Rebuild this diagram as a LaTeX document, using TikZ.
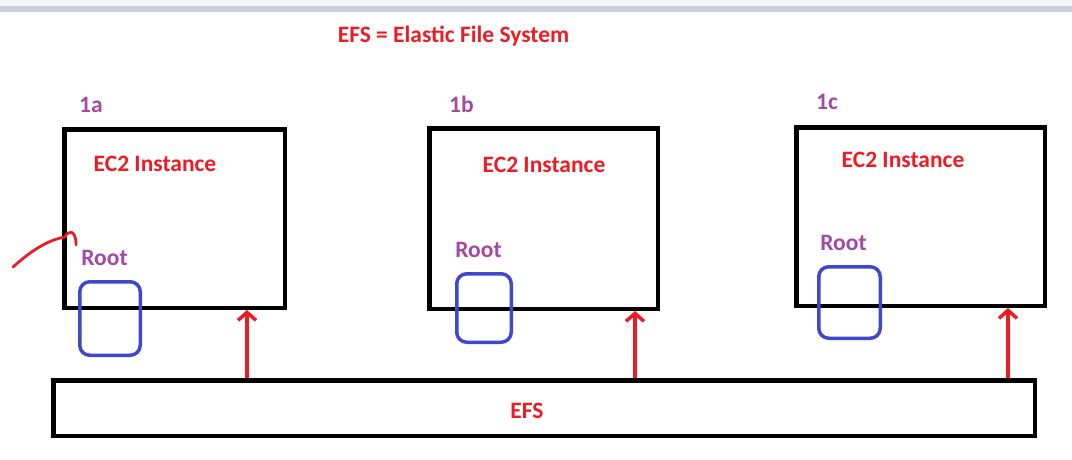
\documentclass[tikz,border=0pt]{standalone}
\usepackage{fontspec}
\setmainfont{Carlito}
\usetikzlibrary{arrows.meta}

\definecolor{paintred}{RGB}{237,28,36}
\definecolor{paintpurple}{RGB}{163,73,164}
\definecolor{paintblue}{RGB}{63,72,204}
\definecolor{barlight}{RGB}{245,246,247}
\definecolor{bardark}{RGB}{205,208,222}

\begin{document}
\begin{tikzpicture}[x=1pt, y=-1pt,
        box/.style={draw, line width=4.5pt, inner sep=0pt},
        disk/.style={draw=paintblue, line width=3.5pt, rounded corners=10pt, inner sep=0pt},
        txt/.style={font=\fontsize{23.5}{28}\selectfont\bfseries, anchor=base, inner sep=0pt},
        redtxt/.style={txt, text=paintred},
        zonetxt/.style={txt, text=paintpurple},
        feed/.style={draw=paintred, line width=3.5pt, -{Straight Barb[length=8pt, width=18pt]}}]
        \useasboundingbox (0,0) rectangle (1072,460);
        % window strip at the top
        \fill[barlight] (0,0) rectangle (1072,6);
        \fill[bardark] (0,6) rectangle (1072,12);

        \node[redtxt] (title) at (453.5,43) {EFS = Elastic File System};

        % instances
        \node[box, minimum width=220.5pt, minimum height=178.5pt] (A) at (174.5,218.5) {};
        \node[box, minimum width=228.5pt, minimum height=180.5pt] (B) at (543.5,218.5) {};
        \node[box, minimum width=248.5pt, minimum height=178.5pt] (C) at (920.5,216.5) {};

        \node[zonetxt] (zA) at (91,113) {1a};
        \node[zonetxt] (zB) at (461.5,113) {1b};
        \node[zonetxt] (zC) at (827,110) {1c};

        \node[redtxt] (iA) at (155,171) {EC2 Instance};
        \node[redtxt] (iB) at (544,172) {EC2 Instance};
        \node[redtxt] (iC) at (903,167) {EC2 Instance};

        \node[zonetxt] (rA) at (104.5,265) {Root};
        \node[zonetxt] (rB) at (478.5,257) {Root};
        \node[zonetxt] (rC) at (843.5,250) {Root};

        \node[disk, minimum width=60.5pt, minimum height=73.5pt] (dA) at (110,318.5) {};
        \node[disk, minimum width=54.5pt, minimum height=68.5pt] (dB) at (484,308) {};
        \node[disk, minimum width=61.5pt, minimum height=71.5pt] (dC) at (849.5,302.5) {};

        % shared file system
        \node[box, minimum width=981.5pt, minimum height=55.5pt] (EFS) at (544,408) {};
        \node[redtxt] (efs) at (527,418) {EFS};

        \coordinate (fA) at (247,378);
        \coordinate (fB) at (635,378);
        \coordinate (fC) at (1008,378);
        \draw[feed] (fA) -- (fA |- A.south);
        \draw[feed] (fB) -- (fB |- B.south);
        \draw[feed] (fC) -- (fC |- C.south);

        % pointer to the edge of 1a
        \coordinate (ps) at (13,267);
        \coordinate (pe) at (76,245);
        \draw[paintred, line width=2.8pt, line cap=round, line join=round]
            (ps) .. controls (32,250) and (48,240) .. (65,237)
            .. controls (68,230) and (76,229) .. (pe);
\end{tikzpicture}
\end{document}
